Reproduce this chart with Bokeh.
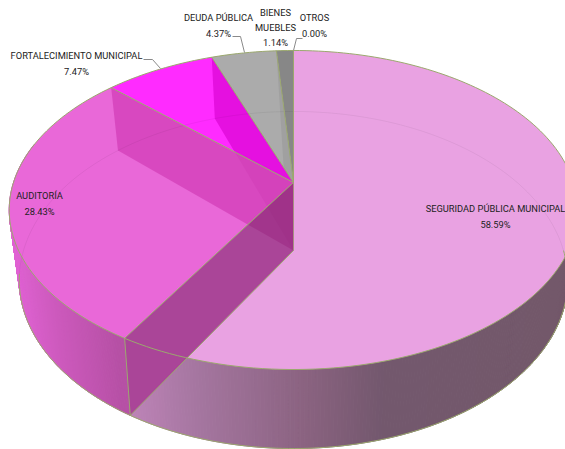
from bokeh.plotting import figure
from bokeh.models import Range1d
from bokeh.embed import file_html
from bokeh.resources import INLINE
from bokeh.core.properties import value
import numpy as np

categories = ["SEGURIDAD PÚBLICA MUNICIPAL", "AUDITORÍA", "FORTALECIMIENTO MUNICIPAL",
              "DEUDA PÚBLICA", "BIENES\nMUEBLES", "OTROS"]
shares = [58.59, 28.43, 7.47, 4.37, 1.14, 0.00]
top_colors = ["#E9A2E2", "#E968D8", "#FF2BFF", "#ABABAB", "#878787", "#878787"]

label_x = [495, 39, 76, 218, 275, 314]
label_y = [216, 203, 63, 25, 27, 25]
leaders = [([143, 152, 160], [59, 59, 68]),
           ([232, 240, 244], [36, 36, 52]),
           ([302, 296, 293], [38, 38, 50])]

EDGE = "#9BA86E"
W, H = 565, 449
TOP = dict(cy=182, a=-123.4, c=0.1724, k=280)
BOT = dict(cy=250, a=-119.6, c=0.175, k=270)


def proj(theta, g):
    t = np.radians(np.asarray(theta, dtype=float))
    u, v = np.sin(t), np.cos(t)
    d = 1 + g["c"] * v
    return 293 + g["k"] * u / d, (g["a"] * v + g["cy"]) / d


def pt(theta, g):
    x, y = proj(theta, g)
    return float(x), float(y)


def cross(p1, p2, p3, p4):
    a = np.array([[p2[0] - p1[0], p3[0] - p4[0]], [p2[1] - p1[1], p3[1] - p4[1]]])
    s = np.linalg.solve(a, np.array([p3[0] - p1[0], p3[1] - p1[1]]))[0]
    return p1[0] + s * (p2[0] - p1[0]), p1[1] + s * (p2[1] - p1[1])


cum = np.cumsum(shares) * 3.6
A_T, A_B = (293.0, TOP["cy"]), (293.0, BOT["cy"])

p = figure(width=W, height=H, x_range=Range1d(0, W), y_range=Range1d(H, 0),
           toolbar_location=None, output_backend="svg", min_border=0,
           outline_line_color=None, background_fill_color="white")
p.axis.visible = False
p.grid.visible = False


def poly(points, color, alpha=1.0, line=None):
    xs = [float(q[0]) for q in points]
    ys = [float(q[1]) for q in points]
    p.patch(xs, ys, fill_color=color, fill_alpha=alpha, line_color=line,
            line_alpha=1.0 if line else 0)


def arc(t0, t1, g, n=80):
    x, y = proj(np.linspace(t0, t1, n), g)
    return list(zip(x, y))


def strips(t0, t1, xstops, rstops, gstops, bstops, n=220):
    th = np.linspace(t0, t1, n)
    xt, yt = proj(th, TOP)
    xb, yb = proj(th, BOT)
    xs, ys, cs = [], [], []
    for i in range(n - 1):
        xs.append([xt[i], xt[i + 1], xb[i + 1], xb[i]])
        ys.append([yt[i], yt[i + 1], yb[i + 1], yb[i]])
        xm = (xb[i] + xb[i + 1]) / 2
        cs.append("#%02x%02x%02x" % (int(np.interp(xm, xstops, rstops)),
                                     int(np.interp(xm, xstops, gstops)),
                                     int(np.interp(xm, xstops, bstops))))
    p.patches([list(map(float, a)) for a in xs], [list(map(float, a)) for a in ys],
              fill_color=cs, line_color=cs, line_width=1)


# outer walls, then tops
strips(85, cum[0], [130, 200, 300, 380, 565], [190, 165, 140, 115, 115],
       [132, 118, 100, 88, 88], [184, 160, 130, 110, 106])
strips(cum[0], 285, [15, 60, 124], [226, 206, 182], [100, 90, 80], [214, 190, 165])
poly([A_T] + arc(0, cum[0], TOP), top_colors[0])
poly([A_T] + arc(cum[0], cum[1], TOP), top_colors[1])

R_B_T, R_B_B = pt(cum[0], TOP), pt(cum[0], BOT)
R_A_T, R_A_B = pt(cum[1], TOP), pt(cum[1], BOT)
R_F_T, R_F_B = pt(cum[2], TOP), pt(cum[2], BOT)
R_D_T, R_D_B = pt(cum[3], TOP), pt(cum[3], BOT)

wall_b = [A_T, R_B_T, R_B_B, A_B]
poly(wall_b, top_colors[1])
poly([A_T, R_A_T, R_A_B, A_B], "#B40089", 0.30)
poly([A_T, R_F_T, R_F_B, A_B], "#A00080", 0.08)
poly(wall_b, "#6C2258", 0.50)

# small slices
poly([A_T] + arc(cum[1], cum[2], TOP), top_colors[2])
i_f = cross(R_F_B, A_B, A_T, R_A_T)
poly([R_F_T, R_F_B, i_f, A_T], "#E510E0")
poly([A_T] + arc(cum[2], cum[3], TOP), top_colors[3])
i_d = cross(R_D_B, A_B, A_T, R_F_T)
poly([R_D_T, i_d, A_T], "#A0A0A0")
poly([A_T] + arc(cum[3], 360, TOP), top_colors[4])

# floor rim seen through the tops
x, y = proj(np.linspace(-98, 90, 160), BOT)
p.line([float(a) for a in x], [float(a) for a in y], line_color="#000000", line_alpha=0.05, line_width=1)

# edges
for t in list(cum[:4]) + [0.0]:
    q = pt(t, TOP)
    p.line([A_T[0], q[0]], [A_T[1], q[1]], line_color=EDGE, line_width=1)
x, y = proj(np.linspace(0, 360, 240), TOP)
p.line([float(a) for a in x], [float(a) for a in y], line_color=EDGE, line_width=1)
x, y = proj(np.linspace(90, 262, 160), BOT)
p.line([float(a) for a in x], [float(a) for a in y], line_color=EDGE, line_width=1)
p.line([R_B_T[0], R_B_B[0]], [R_B_T[1], R_B_B[1]], line_color=EDGE, line_width=1)
p.line([A_B[0], R_B_B[0]], [A_B[1], R_B_B[1]], line_color=EDGE, line_width=1)
p.line([A_T[0], A_B[0]], [A_T[1], A_B[1]], line_color=EDGE, line_width=1, line_alpha=0.7)

# leaders and labels
for lx, ly in leaders:
    p.line(lx, ly, line_color="#8a8a8a", line_width=1)
texts = [f"{c}\n{s:.2f}%" for c, s in zip(categories, shares)]
p.text(label_x, label_y, text=texts, text_font=value("Roboto"),
       text_font_size="9.3px", text_color="#222222", text_align="center",
       text_baseline="middle", text_line_height=1.4)

open("out.html", "w").write(file_html(p, INLINE))
